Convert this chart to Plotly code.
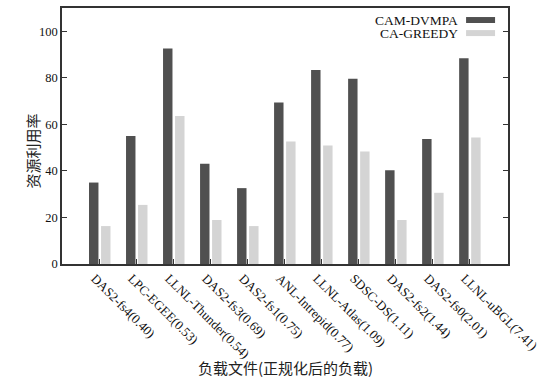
import plotly.graph_objects as go

# Workload files with their normalized load
categories = [
    "DAS2-fs4(0.40)", "LPC-EGEE(0.53)", "LLNL-Thunder(0.54)", "DAS2-fs3(0.69)",
    "DAS2-fs1(0.75)", "ANL-Intrepid(0.77)", "LLNL-Atlas(1.09)", "SDSC-DS(1.11)",
    "DAS2-fs2(1.44)", "DAS2-fs0(2.01)", "LLNL-uBGL(7.41)",
]
cam_dvmpa = [35.0, 55.0, 92.6, 43.1, 32.6, 69.4, 83.4, 79.6, 40.3, 53.7, 88.4]
ca_greedy = [16.3, 25.4, 63.6, 18.9, 16.3, 52.6, 50.9, 48.3, 18.9, 30.6, 54.4]

series_names = ["CAM-DVMPA", "CA-GREEDY"]
series_colors = ["#505050", "#d4d4d4"]
y_ticks = [0, 20, 40, 60, 80, 100]

SERIF = "Liberation Serif, Times New Roman, serif"
CJK = "Noto Sans CJK SC, sans-serif"
AXIS_COLOR = "#333333"

idx = list(range(len(categories)))

fig = go.Figure()
for name, vals, color, off in zip(series_names, [cam_dvmpa, ca_greedy],
                                  series_colors, [-0.29, 0.035]):
    fig.add_trace(go.Bar(
        x=idx, y=vals, name=name, width=0.255, offset=off,
        marker=dict(color=color, line=dict(width=0)),
        showlegend=False,
    ))

# Legend drawn as right-aligned labels followed by a colour swatch
legend_rows_y = [0.953, 0.902]
for name, color, yy in zip(series_names, series_colors, legend_rows_y):
    fig.add_annotation(
        xref="paper", yref="paper", x=0.89, y=yy, xanchor="right", yanchor="middle",
        text=name, showarrow=False, borderpad=0,
        font=dict(family=SERIF, size=13.5, color="#111111"),
    )
    fig.add_shape(
        type="rect", xref="paper", yref="paper",
        x0=0.906, x1=0.971, y0=yy - 0.0117, y1=yy + 0.0117,
        fillcolor=color, line=dict(width=0),
    )

# Axis titles
fig.add_annotation(
    xref="paper", yref="paper", x=-0.067, y=0.44, xanchor="center", yanchor="middle",
    text="资源利用率", textangle=-90, showarrow=False,
    font=dict(family=CJK, size=15, color="#222222"),
)
fig.add_annotation(
    xref="paper", yref="paper", x=0.5, y=-0.405, xanchor="center", yanchor="middle",
    text="负载文件(正规化后的负载)", showarrow=False, borderpad=0,
    font=dict(family=CJK, size=15, color="#222222"),
)

fig.update_layout(
    template="none",
    width=542, height=380,
    margin=dict(l=62, r=34, t=8, b=116),
    paper_bgcolor="white", plot_bgcolor="white",
    barmode="overlay",
    xaxis=dict(
        range=[-1.02, 11.03], tickmode="array", tickvals=idx, ticktext=categories,
        tickangle=45, ticks="inside", ticklen=5, tickcolor=AXIS_COLOR,
        ticklabeloverflow="allow", ticklabelshift=-5, automargin=False,
        showline=True, linecolor=AXIS_COLOR, linewidth=1.5, mirror=True,
        showgrid=False, zeroline=False,
        tickfont=dict(family=SERIF, size=13, color="#111111"),
    ),
    yaxis=dict(
        range=[0, 110], tickvals=y_ticks, automargin=False,
        ticks="inside", ticklen=5, tickcolor=AXIS_COLOR,
        showline=True, linecolor=AXIS_COLOR, linewidth=1.5, mirror="ticks",
        showgrid=False, zeroline=False,
        tickfont=dict(family=SERIF, size=12.5, color="#111111"),
    ),
)

fig.write_html("out.html")
